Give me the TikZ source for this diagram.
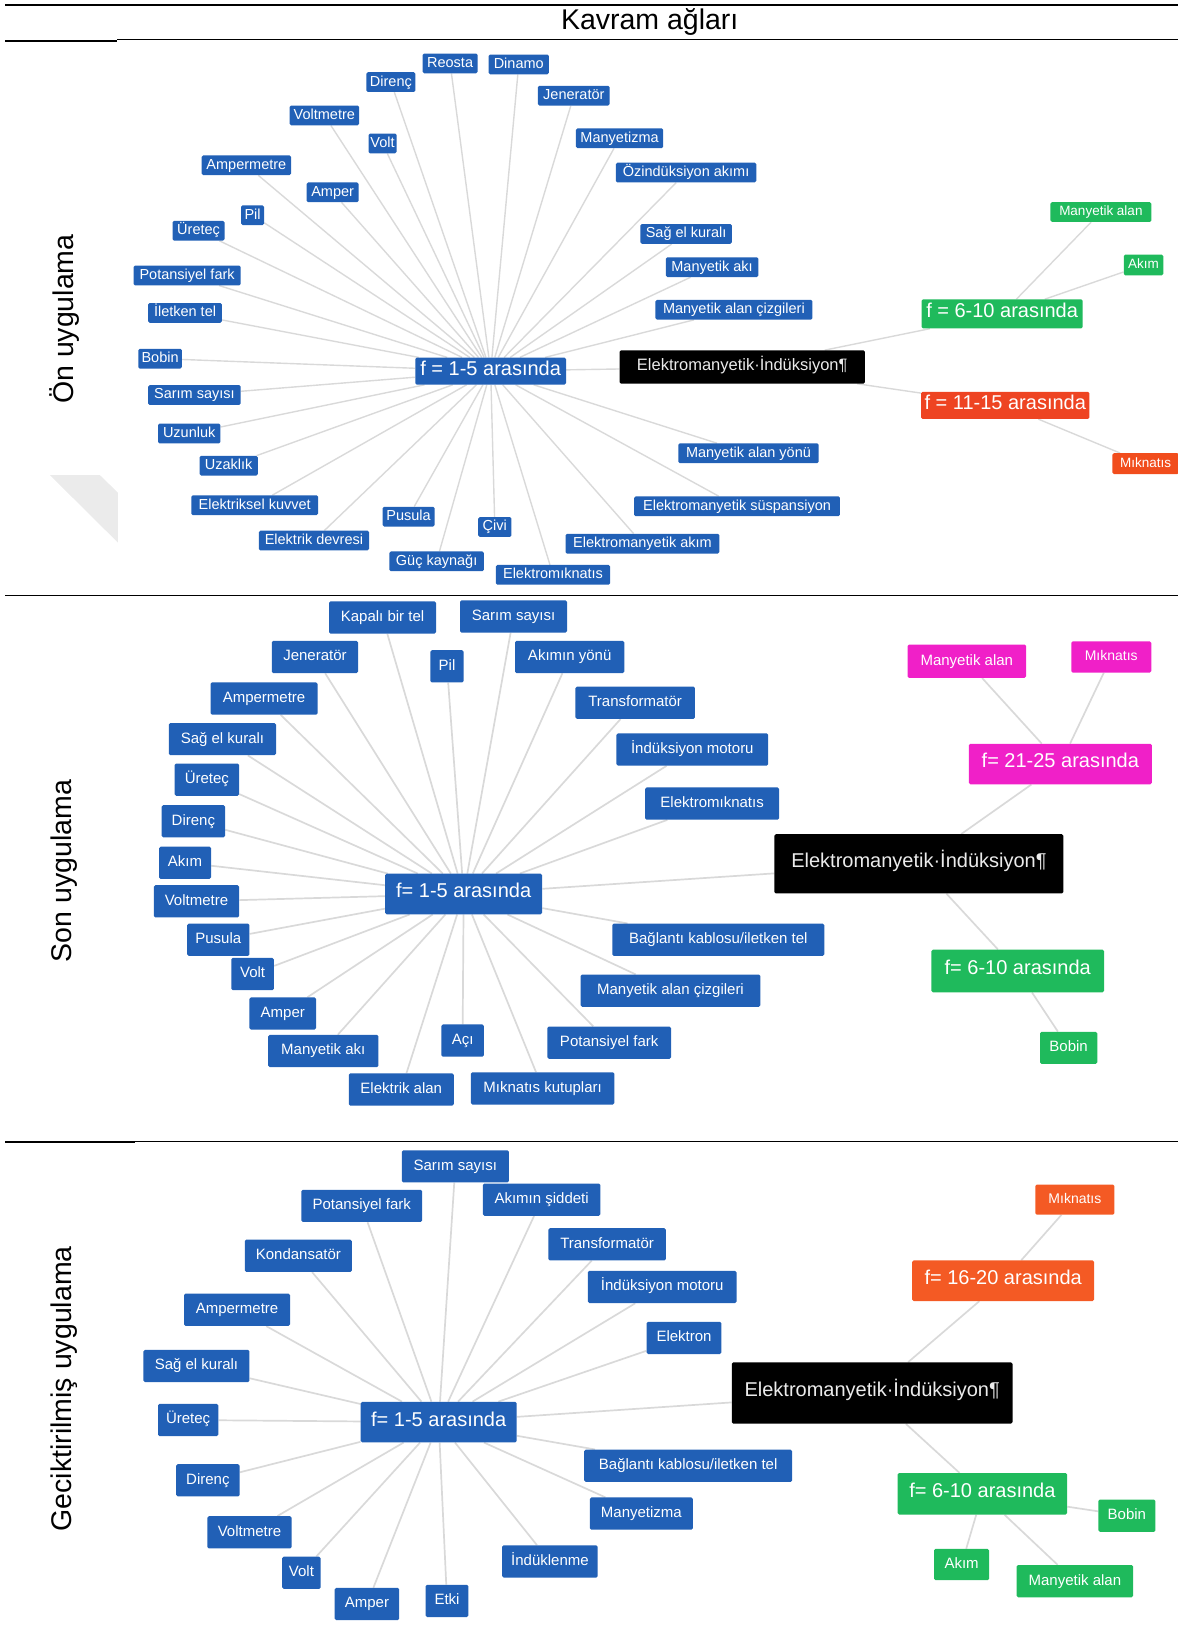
\documentclass[tikz,border=0pt]{standalone}
\usepackage{fontspec}
\setmainfont{Liberation Sans}
\usetikzlibrary{backgrounds}
\definecolor{cblue}{HTML}{2160B6}
\definecolor{cgreen}{HTML}{1FBA5C}
\definecolor{cred}{HTML}{EE4422}
\definecolor{corange}{HTML}{F45A24}
\definecolor{cmagenta}{HTML}{F020C8}
\definecolor{linkgray}{HTML}{D9D9D9}
\definecolor{markgray}{HTML}{EBEBEB}
\tikzset{
  sz/.style 2 args={minimum width=#1*1.0397pt, minimum height=#2*1.0397pt},
  cbox/.style={rounded corners=1.5pt, text=white, inner sep=0pt, align=center,
               text height=.78em, text depth=0em},
  % concept boxes of the first network
  tb/.style={cbox, fill=cblue, font=\fontsize{14.5}{15}\selectfont, sz={#1}{19}},
  % concept boxes of the second and third networks
  mb/.style={cbox, fill=cblue, font=\fontsize{15}{16}\selectfont, sz={#1}{31}},
  hubbox/.style={cbox, font=\fontsize{20}{21}\selectfont},
  rootbox/.style={cbox, fill=black, text=white!92!black},
  link/.style={draw=linkgray, line width=1.7pt},
  rowlabel/.style={rotate=90, font=\fontsize{28.5}{30}\selectfont},
}
\begin{document}
\begin{tikzpicture}[x=1.0397pt, y=-1.0397pt]
\useasboundingbox (0,0) rectangle (1133,1568);

% table rules
\draw[line width=2pt] (5,5) -- (1133,5);
\draw[line width=1pt] (113,38) -- (1133,38);
\draw[line width=2pt] (5,39) -- (113,39);
\draw[line width=1.6pt] (5,573) -- (1133,573);
\draw[line width=1pt] (130,1098.5) -- (1133,1098.5);
\draw[line width=2pt] (5,1099) -- (130,1099);

\node[font=\fontsize{28.5}{30}\selectfont] (title) at (625,21) {Kavram ağları};
\node[rowlabel] (row1) at (62,307) {Ön uygulama};
\node[rowlabel] (row2) at (62,838) {Son uygulama};
\node[rowlabel] (row3) at (62,1336) {Geciktirilmiş uygulama};

% faint corner mark on the first figure
\fill[markgray] (48,457) -- (96,457) -- (113.5,474) -- (113.5,522) -- cycle;

% ---------------- first network ----------------
\node[hubbox, fill=cblue, sz={145}{26}] (a-hub) at (472,357) {f = 1-5 arasında};
\node[rootbox, font=\fontsize{16.5}{17}\selectfont, sz={236}{32}] (a-em) at (714,353) {Elektromanyetik·İndüksiyon¶};
\node[hubbox, fill=cgreen, sz={155}{28}] (a-g) at (964,302) {f = 6-10 arasında};
\node[hubbox, fill=cred, sz={162}{26}] (a-r) at (967,390) {f = 11-15 arasında};
\node[cbox, fill=cgreen, font=\fontsize{13.5}{14}\selectfont, sz={97}{19}] (a-gman) at (1059,204) {Manyetik alan};
\node[cbox, fill=cgreen, font=\fontsize{13.5}{14}\selectfont, sz={38}{20}] (a-gakim) at (1100,255) {Akım};
\node[cbox, fill=cred!85!orange, font=\fontsize{13.5}{14}\selectfont, sz={64}{20}] (a-rmik) at (1102,446) {Mıknatıs};

\node[tb=53] (a-reosta) at (433,61) {Reosta};
\node[tb=58] (a-dinamo) at (499,62) {Dinamo};
\node[tb=47] (a-direnc) at (376,79) {Direnç};
\node[tb=69] (a-jenerator) at (552,92) {Jeneratör};
\node[tb=67] (a-voltmetre) at (312,111) {Voltmetre};
\node[tb=27] (a-volt) at (368,138) {Volt};
\node[tb=84] (a-manyetizma) at (596,133) {Manyetizma};
\node[tb=135] (a-ozind) at (660,166) {Özindüksiyon akımı};
\node[tb=86] (a-ampermetre) at (237,159) {Ampermetre};
\node[tb=50] (a-amper) at (320,185) {Amper};
\node[tb=22] (a-pil) at (243,207) {Pil};
\node[tb=50] (a-uretec) at (191,222) {Üreteç};
\node[tb=88] (a-sagel) at (660,225) {Sağ el kuralı};
\node[tb=89] (a-mak) at (685,257) {Manyetik akı};
\node[tb=103] (a-potfark) at (180,265) {Potansiyel fark};
\node[tb=71] (a-iletken) at (178,301) {İletken tel};
\node[tb=151] (a-mancizgi) at (706,298) {Manyetik alan çizgileri};
\node[tb=42] (a-bobin) at (154,345) {Bobin};
\node[tb=89] (a-sarim) at (187,380) {Sarım sayısı};
\node[tb=60] (a-uzunluk) at (182,417) {Uzunluk};
\node[tb=56] (a-uzaklik) at (220,448) {Uzaklık};
\node[tb=135] (a-manyon) at (720,436) {Manyetik alan yönü};
\node[tb=122] (a-ekuvvet) at (245,486) {Elektriksel kuvvet};
\node[tb=198] (a-susp) at (709,487) {Elektromanyetik süspansiyon};
\node[tb=50] (a-pusula) at (393,497) {Pusula};
\node[tb=106] (a-edevre) at (302,520) {Elektrik devresi};
\node[tb=32] (a-civi) at (476,507) {Çivi};
\node[tb=148] (a-emakim) at (618,523) {Elektromanyetik akım};
\node[tb=91] (a-guc) at (420,540) {Güç kaynağı};
\node[tb=110] (a-emiknatis) at (532,553) {Elektromıknatıs};

% ---------------- second network ----------------
\node[hubbox, fill=cblue, sz={151}{39}] (b-hub) at (446,860) {f= 1-5 arasında};
\node[rootbox, font=\fontsize{20}{21}\selectfont, sz={278}{57}] (b-em) at (884,831) {Elektromanyetik·İndüksiyon¶};
\node[hubbox, fill=cmagenta, sz={176}{39}] (b-m) at (1020,735) {f= 21-25 arasında};
\node[cbox, fill=cmagenta, font=\fontsize{15}{16}\selectfont, sz={114}{32}] (b-mman) at (930,636) {Manyetik alan};
\node[cbox, fill=cmagenta, font=\fontsize{14}{15}\selectfont, sz={77}{30}] (b-mmik) at (1069,632) {Mıknatıs};
\node[hubbox, fill=cgreen, sz={166}{41}] (b-g) at (979,934) {f= 6-10 arasında};
\node[cbox, fill=cgreen, font=\fontsize{15}{16}\selectfont, sz={55}{31}] (b-gbobin) at (1028,1008) {Bobin};

\node[mb=103] (b-kapali) at (368,594) {Kapalı bir tel};
\node[mb=103] (b-sarim) at (494,593) {Sarım sayısı};
\node[mb=83] (b-jenerator) at (303,632) {Jeneratör};
\node[mb=32] (b-pil) at (430,641) {Pil};
\node[mb=105] (b-akyon) at (548,632) {Akımın yönü};
\node[mb=103] (b-ampermetre) at (254,672) {Ampermetre};
\node[mb=115] (b-trafo) at (611,676) {Transformatör};
\node[mb=103] (b-sagel) at (214,711) {Sağ el kuralı};
\node[mb=146] (b-indmotor) at (666,721) {İndüksiyon motoru};
\node[mb=62] (b-uretec) at (199,750) {Üreteç};
\node[mb=129] (b-emiknatis) at (685,773) {Elektromıknatıs};
\node[mb=61] (b-direnc) at (186,790) {Direnç};
\node[mb=50] (b-akim) at (178,830) {Akım};
\node[mb=82] (b-voltmetre) at (189,867) {Voltmetre};
\node[mb=60] (b-pusula) at (210,904) {Pusula};
\node[mb=204] (b-baglanti) at (691,904) {Bağlantı kablosu/iletken tel};
\node[mb=41] (b-volt) at (243,937) {Volt};
\node[mb=173] (b-mancizgi) at (645,953) {Manyetik alan çizgileri};
\node[mb=64] (b-amper) at (272,975) {Amper};
\node[mb=106] (b-mak) at (311,1011) {Manyetik akı};
\node[mb=41] (b-aci) at (445,1001) {Açı};
\node[mb=119] (b-potfark) at (586,1003) {Potansiyel fark};
\node[mb=101] (b-ealan) at (386,1048) {Elektrik alan};
\node[mb=138] (b-kutup) at (522,1047) {Mıknatıs kutupları};

% ---------------- third network ----------------
\node[hubbox, fill=cblue, sz={150}{39}] (c-hub) at (422,1368) {f= 1-5 arasında};
\node[rootbox, font=\fontsize{20}{21}\selectfont, sz={270}{59}] (c-em) at (839,1340) {Elektromanyetik·İndüksiyon¶};
\node[hubbox, fill=corange, sz={175}{39}] (c-o) at (965,1232) {f= 16-20 arasında};
\node[cbox, fill=corange, font=\fontsize{14}{15}\selectfont, sz={76}{29}] (c-omik) at (1034,1154) {Mıknatıs};
\node[hubbox, fill=cgreen, sz={163}{40}] (c-g) at (945,1437) {f= 6-10 arasında};
\node[cbox, fill=cgreen, font=\fontsize{15}{16}\selectfont, sz={55}{31}] (c-gbobin) at (1084,1458) {Bobin};
\node[cbox, fill=cgreen, font=\fontsize{15}{16}\selectfont, sz={53}{30}] (c-gakim) at (925,1505) {Akım};
\node[cbox, fill=cgreen, font=\fontsize{15}{16}\selectfont, sz={112}{31}] (c-gman) at (1034,1521) {Manyetik alan};

\node[mb=103] (c-sarim) at (438,1122) {Sarım sayısı};
\node[mb=116] (c-potfark) at (348,1160) {Potansiyel fark};
\node[mb=113] (c-siddet) at (521,1154) {Akımın şiddeti};
\node[mb=103] (c-kond) at (287,1208) {Kondansatör};
\node[mb=113] (c-trafo) at (584,1197) {Transformatör};
\node[mb=143] (c-indmotor) at (637,1238) {İndüksiyon motoru};
\node[mb=102] (c-ampermetre) at (228,1260) {Ampermetre};
\node[mb=72] (c-elektron) at (658,1287) {Elektron};
\node[mb=102] (c-sagel) at (189,1314) {Sağ el kuralı};
\node[mb=58] (c-uretec) at (181,1366) {Üreteç};
\node[mb=200] (c-baglanti) at (662,1410) {Bağlantı kablosu/iletken tel};
\node[mb=61] (c-direnc) at (200,1424) {Direnç};
\node[mb=99] (c-manyetizma) at (617,1456) {Manyetizma};
\node[mb=81] (c-voltmetre) at (240,1474) {Voltmetre};
\node[mb=92] (c-indukl) at (529,1502) {İndüklenme};
\node[mb=37] (c-volt) at (290,1513) {Volt};
\node[mb=62] (c-amper) at (353,1543) {Amper};
\node[mb=41] (c-etki) at (430,1540) {Etki};

% ---------------- connectors ----------------
\begin{scope}[on background layer]
  \foreach \n in {reosta,dinamo,direnc,jenerator,voltmetre,volt,manyetizma,ozind,
                  ampermetre,amper,pil,uretec,sagel,mak,potfark,iletken,mancizgi,
                  bobin,sarim,uzunluk,uzaklik,manyon,ekuvvet,susp,pusula,edevre,
                  civi,emakim,guc,emiknatis,em}
    \draw[link, line width=1.4pt] (a-hub) -- (a-\n);
  \draw[link, line width=1.4pt] (a-em) -- (a-g);
  \draw[link, line width=1.4pt] (a-em) -- (a-r);
  \draw[link, line width=1.4pt] (a-g) -- (a-gman);
  \draw[link, line width=1.4pt] (a-g) -- (a-gakim);
  \draw[link, line width=1.4pt] (a-r) -- (a-rmik);

  \foreach \n in {kapali,sarim,jenerator,pil,akyon,ampermetre,trafo,sagel,indmotor,
                  uretec,emiknatis,direnc,akim,voltmetre,pusula,baglanti,volt,
                  mancizgi,amper,mak,aci,potfark,ealan,kutup,em}
    \draw[link] (b-hub) -- (b-\n);
  \draw[link] (b-em) -- (b-m);
  \draw[link] (b-em) -- (b-g);
  \draw[link] (b-m) -- (b-mman);
  \draw[link] (b-m) -- (b-mmik);
  \draw[link] (b-g) -- (b-gbobin);

  \foreach \n in {sarim,potfark,siddet,kond,trafo,indmotor,ampermetre,elektron,
                  sagel,uretec,baglanti,direnc,manyetizma,voltmetre,indukl,volt,
                  amper,etki,em}
    \draw[link] (c-hub) -- (c-\n);
  \draw[link] (c-em) -- (c-o);
  \draw[link] (c-em) -- (c-g);
  \draw[link] (c-o) -- (c-omik);
  \draw[link] (c-g) -- (c-gbobin);
  \draw[link] (c-g) -- (c-gakim);
  \draw[link] (c-g) -- (c-gman);
\end{scope}
\end{tikzpicture}
\end{document}
